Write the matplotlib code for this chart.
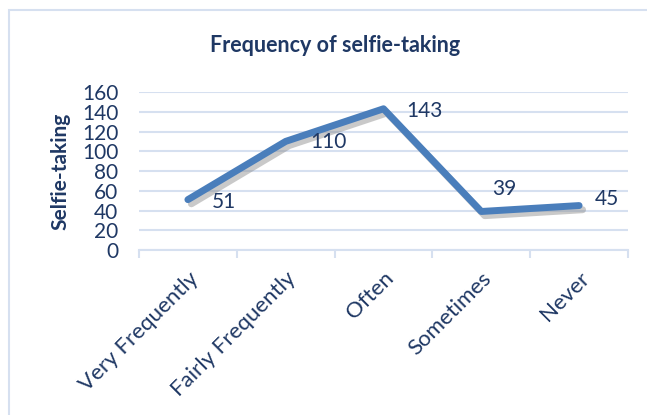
import matplotlib.pyplot as plt
import matplotlib.patheffects as pe
from matplotlib.patches import Rectangle
import numpy as np

categories = ['Very Frequently', 'Fairly Frequently', 'Often', 'Sometimes', 'Never']
counts = [51, 110, 143, 39, 45]
y_ticks = [0, 20, 40, 60, 80, 100, 120, 140, 160]

# where each data label sits relative to its point (pixels)
label_offsets = [(24, -2), (25, -1), (23, -2), (11, 22), (16, 7)]

text_col = '#1F3864'
line_col = '#4A7EBB'
grid_col = '#D6E0F0'

plt.rcParams['font.family'] = ['Lato', 'DejaVu Sans']

fig = plt.figure(figsize=(6.47, 4.15), dpi=100)
ax = fig.add_axes([139/647, 1-250/415, (628-139)/647, (250-92)/415])

# chart border
fig.patches.append(Rectangle((9/647, -0.1), 1.0, 1-10/415+0.1, transform=fig.transFigure,
                             fill=False, edgecolor=grid_col, linewidth=1.5))

x = np.arange(len(categories))
ax.plot(x, counts, color=line_col, linewidth=5, solid_capstyle='round', solid_joinstyle='round',
        path_effects=[pe.SimpleLineShadow(offset=(2.5, -3), shadow_color='#888888', alpha=0.45),
                      pe.Normal()])

for xi, v, off in zip(x, counts, label_offsets):
    ax.annotate(str(v), (xi, v), xytext=off, textcoords='offset pixels',
                ha='left', va='center', fontsize=15, color=text_col)

ax.set_xlim(-0.5, len(categories) - 0.5)
ax.set_ylim(0, 160)
ax.set_yticks(y_ticks)
ax.set_yticklabels([str(t) for t in y_ticks], fontsize=15, color=text_col)
ax.tick_params(axis='y', length=0, pad=15)
ax.yaxis.grid(True, color=grid_col, linewidth=1.5)
ax.set_axisbelow(True)

ax.set_xticks(x)
ax.set_xticklabels(categories, rotation=45, ha='right', rotation_mode='anchor',
                   fontsize=16, color=text_col)
ax.tick_params(axis='x', which='major', length=0, pad=13)
ax.set_xticks(np.arange(-0.5, len(categories)), minor=True)
ax.tick_params(axis='x', which='minor', length=6, color=grid_col, width=1.5)

for s in ['top', 'right', 'left']:
    ax.spines[s].set_visible(False)
ax.spines['bottom'].set_color(grid_col)
ax.spines['bottom'].set_linewidth(1.5)

ax.set_ylabel('Selfie-taking', fontsize=15, fontweight='bold', color=text_col)
ax.yaxis.set_label_coords((70-139)/(628-139), 0.5)
fig.text(335/647, 1-45/415, 'Frequency of selfie-taking', ha='center', va='center',
         fontsize=15.5, fontweight='bold', color=text_col)

fig.savefig('out.png', dpi=100)
